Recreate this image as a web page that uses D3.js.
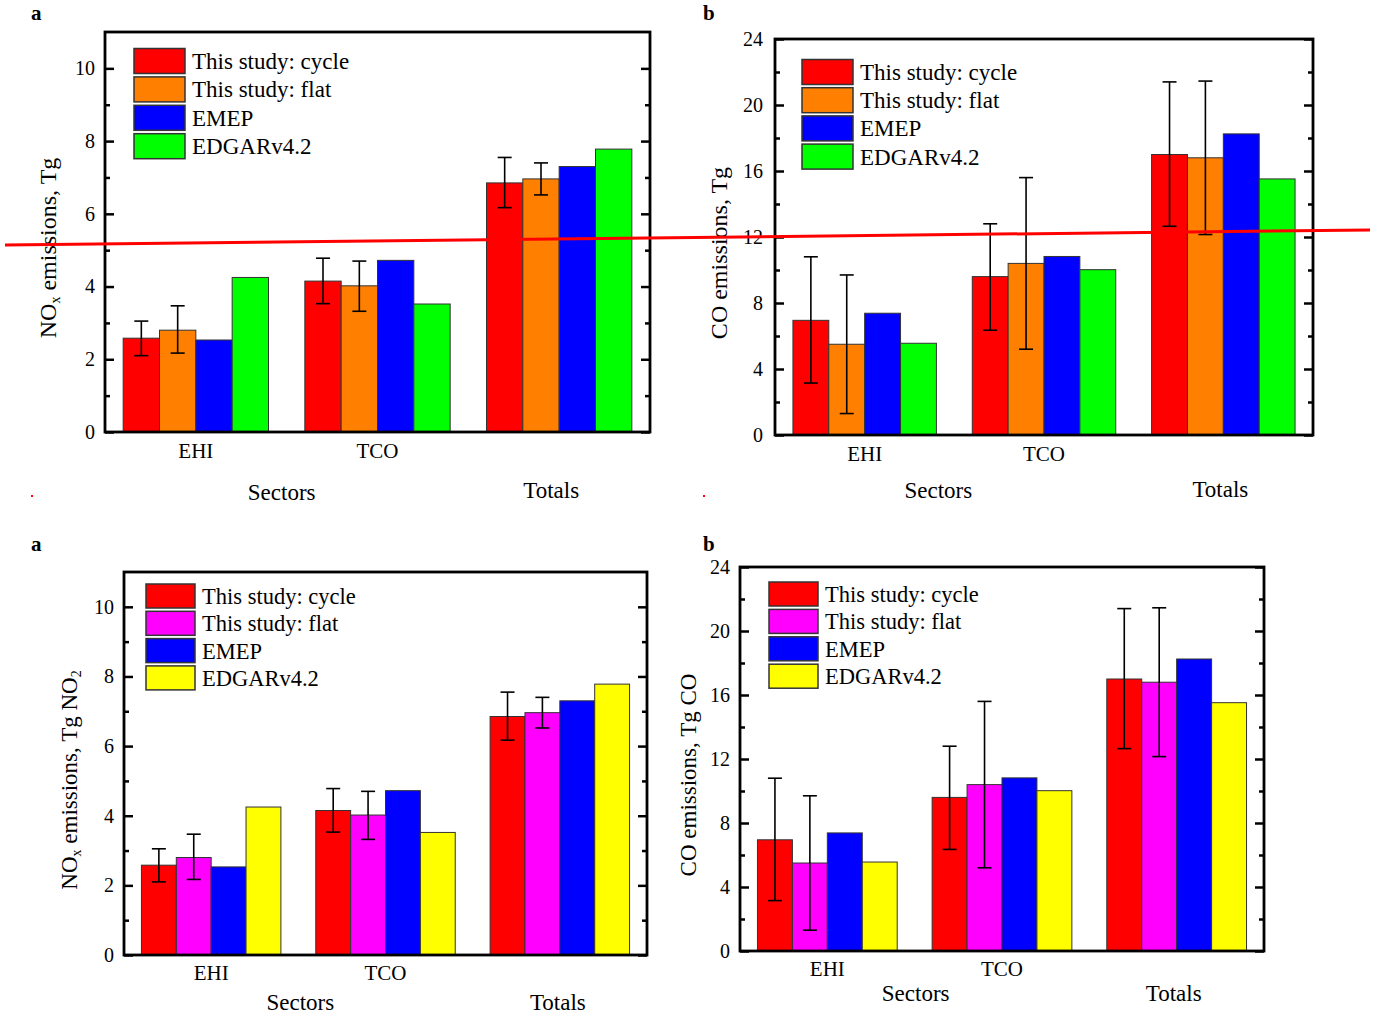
<!DOCTYPE html>
<html>
<head>
<meta charset="utf-8">
<script src="https://cdn.jsdelivr.net/npm/d3@7"></script>
<style>
  html, body { margin: 0; padding: 0; background: #fff; }
  svg { display: block; }
  svg text { font-family: "Liberation Serif", "Times New Roman", serif; fill: #000; }
</style>
</head>
<body>
<svg id="chart" width="1380" height="1018"></svg>
<script>
// ---------------- data ----------------
const categories = ["EHI", "TCO", "Totals"];
const seriesNames = ["This study: cycle", "This study: flat", "EMEP", "EDGARv4.2"];

// NOx (Tg)
const noxCycle   = [2.58, 4.15, 6.85];
const noxCycleLo = [2.10, 3.53, 6.17];
const noxCycleHi = [3.05, 4.78, 7.55];
const noxFlat    = [2.80, 4.02, 6.96];
const noxFlatLo  = [2.17, 3.32, 6.52];
const noxFlatHi  = [3.47, 4.70, 7.40];
const noxEmep    = [2.53, 4.72, 7.30];
const noxEdgar   = [4.25, 3.52, 7.78];

// CO (Tg)
const coCycle   = [6.95, 9.60, 17.00];
const coCycleLo = [3.15, 6.35, 12.65];
const coCycleHi = [10.80, 12.80, 21.40];
const coFlat    = [5.50, 10.40, 16.80];
const coFlatLo  = [1.30, 5.20, 12.15];
const coFlatHi  = [9.70, 15.60, 21.45];
const coEmep    = [7.38, 10.82, 18.25];
const coEdgar   = [5.56, 10.02, 15.52];

const noxTicks = [0, 2, 4, 6, 8, 10];
const noxMinor = [1, 3, 5, 7, 9];
const coTicks  = [0, 4, 8, 12, 16, 20, 24];
const coMinor  = [2, 6, 10, 14, 18, 22];

const colorsTop    = ["#ff0000", "#ff8000", "#0000ff", "#00ff00"];
const colorsBottom = ["#ff0000", "#ff00ff", "#0000ff", "#ffff00"];

// ---------------- drawing ----------------
const svg = d3.select("#chart");
const SERIF = "'Liberation Serif', 'Times New Roman', serif";

function buildSeries(vals, lo, hi) {
  return vals.map((v, i) => ({ v: v, lo: lo ? lo[i] : null, hi: hi ? hi[i] : null }));
}

function styleTicks(sel) {
  sel.select(".domain").remove();
  sel.selectAll(".tick line").attr("stroke", "#000").attr("stroke-width", 2.5);
}

function drawPanel(cfg) {
  const g = svg.append("g");
  const x0 = d3.scaleBand().domain(categories)
    .range([cfg.left, cfg.right]).paddingInner(0.2).paddingOuter(0.1);
  const x1 = d3.scaleBand().domain(d3.range(seriesNames.length))
    .range([0, x0.bandwidth()]).padding(0);
  const y = d3.scaleLinear().domain([0, cfg.ymax]).range([cfg.bottom, cfg.top]);

  // bars
  cfg.series.forEach((s, si) => {
    g.selectAll(null).data(s).enter().append("rect")
      .attr("x", (d, i) => x0(categories[i]) + x1(si))
      .attr("y", d => y(d.v))
      .attr("width", x1.bandwidth())
      .attr("height", d => y(0) - y(d.v))
      .attr("fill", cfg.colors[si])
      .attr("stroke", "#333")
      .attr("stroke-width", 1);
  });

  // error bars
  cfg.series.forEach((s, si) => {
    s.forEach((d, i) => {
      if (d.lo == null) return;
      const cx = x0(categories[i]) + x1(si) + x1.bandwidth() / 2;
      const eb = g.append("g").attr("stroke", "#000").attr("stroke-width", 1.6);
      eb.append("line").attr("x1", cx).attr("x2", cx).attr("y1", y(d.lo)).attr("y2", y(d.hi));
      eb.append("line").attr("x1", cx - 7).attr("x2", cx + 7).attr("y1", y(d.lo)).attr("y2", y(d.lo));
      eb.append("line").attr("x1", cx - 7).attr("x2", cx + 7).attr("y1", y(d.hi)).attr("y2", y(d.hi));
    });
  });

  // y axes (left, inward ticks) and right mirror
  const la = g.append("g").attr("transform", `translate(${cfg.left},0)`)
    .call(d3.axisLeft(y).tickValues(cfg.ticks).tickSizeInner(-9).tickSizeOuter(0).tickPadding(cfg.tickPad));
  styleTicks(la);
  la.attr("font-family", null).attr("font-size", null);
  la.selectAll(".tick text").style("font-family", SERIF).style("font-size", "20px").attr("fill", "#000");

  const lm = g.append("g").attr("transform", `translate(${cfg.left},0)`)
    .call(d3.axisLeft(y).tickValues(cfg.minor).tickSizeInner(-5).tickSizeOuter(0).tickFormat(""));
  styleTicks(lm);

  const ra = g.append("g").attr("transform", `translate(${cfg.right},0)`)
    .call(d3.axisRight(y).tickValues(cfg.ticks).tickSizeInner(-9).tickSizeOuter(0).tickFormat(""));
  styleTicks(ra);
  const rm = g.append("g").attr("transform", `translate(${cfg.right},0)`)
    .call(d3.axisRight(y).tickValues(cfg.minor).tickSizeInner(-5).tickSizeOuter(0).tickFormat(""));
  styleTicks(rm);

  // frame
  g.append("rect").attr("x", cfg.left).attr("y", cfg.top)
    .attr("width", cfg.right - cfg.left).attr("height", cfg.bottom - cfg.top)
    .attr("fill", "none").attr("stroke", "#000").attr("stroke-width", 2.8);

  // category labels
  ["EHI", "TCO"].forEach(c => {
    g.append("text").attr("x", x0(c) + x0.bandwidth() / 2).attr("y", cfg.catY)
      .attr("text-anchor", "middle").style("font-size", "21px").text(c);
  });
  const midSectors = (x0("EHI") + x0("TCO") + x0.bandwidth()) / 2;
  g.append("text").attr("x", midSectors + cfg.sectorsDx).attr("y", cfg.groupY)
    .attr("text-anchor", "middle").style("font-size", "23px").text("Sectors");
  g.append("text").attr("x", x0("Totals") + x0.bandwidth() / 2 + cfg.totalsDx).attr("y", cfg.totalsY)
    .attr("text-anchor", "middle").style("font-size", "23px").text("Totals");

  // y title
  const yt = g.append("text")
    .attr("transform", `translate(${cfg.ytX},${cfg.ytY}) rotate(-90)`)
    .attr("text-anchor", "middle").style("font-size", cfg.ytFont + "px");
  cfg.yTitle.forEach(p => {
    const t = yt.append("tspan").text(p.t);
    if (p.sub) t.style("font-size", "14px").attr("baseline-shift", "-30%");
  });

  // panel letter
  g.append("text").attr("x", cfg.letterX).attr("y", cfg.letterY)
    .style("font-size", "21px").attr("font-weight", "bold").text(cfg.letter);

  // legend
  const lg = g.append("g");
  seriesNames.forEach((name, i) => {
    const cy = cfg.legY + i * cfg.legStep;
    lg.append("rect").attr("x", cfg.legX).attr("y", cy - cfg.legH / 2)
      .attr("width", cfg.legW).attr("height", cfg.legH)
      .attr("fill", cfg.colors[i]).attr("stroke", "#333").attr("stroke-width", 1.5);
    lg.append("text").attr("x", cfg.legX + cfg.legW + 7).attr("y", cy + 8)
      .style("font-size", cfg.legFont + "px").text(name);
  });

  return { x0, y };
}

const noxSeries = [
  buildSeries(noxCycle, noxCycleLo, noxCycleHi),
  buildSeries(noxFlat, noxFlatLo, noxFlatHi),
  buildSeries(noxEmep),
  buildSeries(noxEdgar)
];
const coSeries = [
  buildSeries(coCycle, coCycleLo, coCycleHi),
  buildSeries(coFlat, coFlatLo, coFlatHi),
  buildSeries(coEmep),
  buildSeries(coEdgar)
];

// top-left
drawPanel({
  left: 105, right: 650, top: 32, bottom: 432, ymax: 11,
  ticks: noxTicks, minor: noxMinor, series: noxSeries, colors: colorsTop, tickPad: 10,
  catY: 458, groupY: 500, totalsY: 498, sectorsDx: -5, totalsDx: -8,
  ytX: 56, ytY: 248, ytFont: 24,
  yTitle: [{ t: "NO" }, { t: "x", sub: true }, { t: " emissions, Tg" }],
  letter: "a", letterX: 31, letterY: 20,
  legX: 134, legY: 61, legStep: 28.4, legW: 51, legH: 25, legFont: 23
});
// top-right
drawPanel({
  left: 775, right: 1313, top: 39, bottom: 435, ymax: 24,
  ticks: coTicks, minor: coMinor, series: coSeries, colors: colorsTop, tickPad: 12,
  catY: 461, groupY: 498, totalsY: 497, sectorsDx: -16, totalsDx: -3,
  ytX: 727, ytY: 253, ytFont: 24,
  yTitle: [{ t: "CO emissions, Tg" }],
  letter: "b", letterX: 703, letterY: 20,
  legX: 802, legY: 72, legStep: 28.2, legW: 51, legH: 25, legFont: 23
});
// bottom-left
drawPanel({
  left: 124, right: 647, top: 572, bottom: 955, ymax: 11,
  ticks: noxTicks, minor: noxMinor, series: noxSeries, colors: colorsBottom, tickPad: 10,
  catY: 980, groupY: 1010, totalsY: 1010, sectorsDx: 2, totalsDx: -2,
  ytX: 77, ytY: 780, ytFont: 23,
  yTitle: [{ t: "NO" }, { t: "x", sub: true }, { t: " emissions, Tg NO" }, { t: "2", sub: true }],
  letter: "a", letterX: 31, letterY: 551,
  legX: 146, legY: 596, legStep: 27.3, legW: 49, legH: 24, legFont: 22.5
});
// bottom-right
drawPanel({
  left: 740, right: 1264, top: 567, bottom: 951, ymax: 24,
  ticks: coTicks, minor: coMinor, series: coSeries, colors: colorsBottom, tickPad: 10,
  catY: 976, groupY: 1001, totalsY: 1001, sectorsDx: 1, totalsDx: -3,
  ytX: 696, ytY: 775, ytFont: 23,
  yTitle: [{ t: "CO emissions, Tg CO" }],
  letter: "b", letterX: 703, letterY: 551,
  legX: 769, legY: 594, legStep: 27.4, legW: 49, legH: 24, legFont: 22.5
});

// annotation overlay: red line across the top row, and two small red marks
svg.append("line").attr("x1", 5).attr("y1", 245).attr("x2", 1370).attr("y2", 230)
  .attr("stroke", "#ff0000").attr("stroke-width", 3);
svg.append("rect").attr("x", 31).attr("y", 495).attr("width", 2).attr("height", 2).attr("fill", "#ff0000");
svg.append("rect").attr("x", 703).attr("y", 495).attr("width", 2).attr("height", 2).attr("fill", "#ff0000");
</script>
</body>
</html>
